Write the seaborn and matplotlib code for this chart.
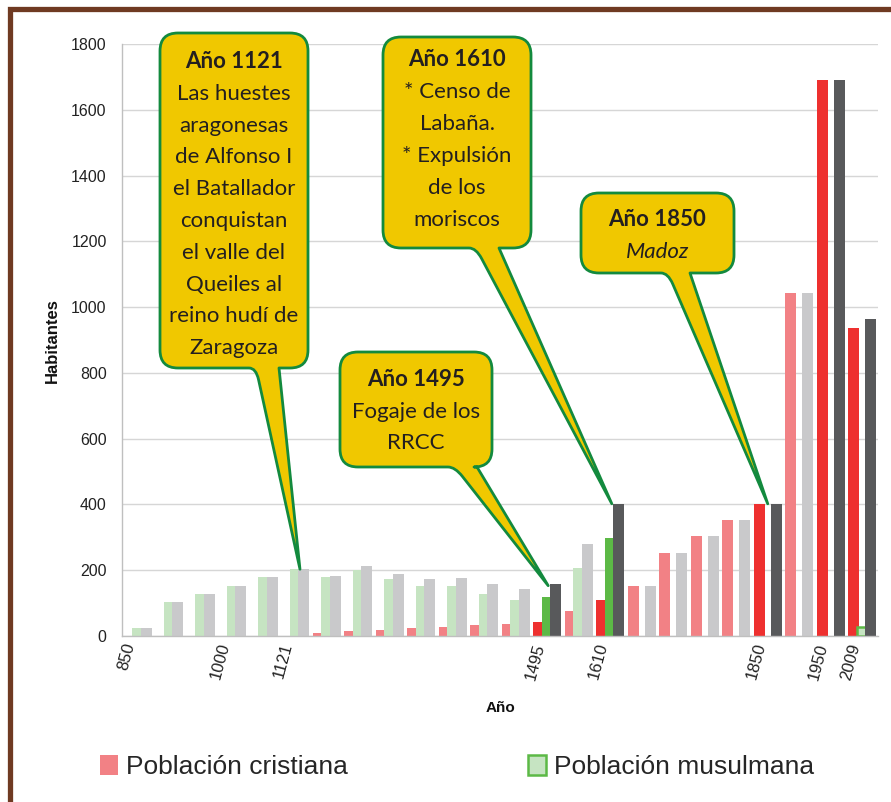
import matplotlib
matplotlib.use('Agg')
import matplotlib.pyplot as plt
import matplotlib.patches as mpatches
import matplotlib.transforms as mtransforms
from matplotlib.path import Path
import pandas as pd
import seaborn as sns

# datos (habitantes por periodo)
etiquetas = ['850', '', '', '1000', '', '1121', '', '', '', '', '', '', '',
             '1495', '', '1610', '', '', '', '', '1850', '', '1950', '2009']
cristiana = [0, 0, 0, 0, 0, 0, 9, 14, 18, 24, 27, 32, 37, 42, 76, 108,
             153, 253, 304, 354, 402, 1044, 1690, 938]
musulmana = [24, 104, 128, 153, 178, 203, 178, 202, 172, 152, 152, 127, 109, 118, 207, 297,
             0, 0, 0, 0, 0, 0, 0, 26]
total = [24, 104, 128, 153, 178, 203, 183, 212, 187, 172, 177, 158, 143, 158, 281, 402,
         153, 253, 304, 354, 402, 1044, 1690, 963]
destacados = ['1495', '1610', '1850', '1950', '2009']
series = ['Población cristiana', 'Población musulmana', 'Total']

colores_claros = ['#F28185', '#C6E4C2', '#C9C9CB']
colores_oscuros = ['#EE302F', '#5CB946', '#58595B']

W, H = 891, 802

sns.set_style('white')
plt.rcParams['font.family'] = ['Liberation Sans', 'DejaVu Sans']

periodo = list(range(len(etiquetas)))
n = len(periodo)
df = pd.DataFrame({
    'periodo': periodo * 3,
    'serie': [series[0]] * n + [series[1]] * n + [series[2]] * n,
    'habitantes': cristiana + musulmana + total,
})

fig = plt.figure(figsize=(W / 100, H / 100), dpi=100)
ax = fig.add_axes([122 / W, 166 / H, 756 / W, 592 / H])

sns.barplot(data=df, x='periodo', y='habitantes', hue='serie', order=periodo,
            hue_order=series, width=0.81, saturation=1, legend=False,
            errorbar=None, ax=ax)

# colores por barra y solape estilo Excel
for s, cont in enumerate(ax.containers):
    for bar in cont:
        c = bar.get_x() + bar.get_width() / 2
        cat = int(round(c))
        oscuro = etiquetas[cat] in destacados
        bar.set_facecolor(colores_oscuros[s] if oscuro else colores_claros[s])
        bar.set_edgecolor('none')
        if s == 1 and etiquetas[cat] == '2009':
            bar.set_facecolor(colores_claros[1])
            bar.set_edgecolor(colores_oscuros[1])
            bar.set_linewidth(1.8)
        bar.set_x(c - 0.175)
        bar.set_width(0.35)

ax.set_xlim(-0.5, n - 0.5)
ax.set_ylim(0, 1800)
ax.set_yticks(range(0, 1801, 200))
ax.set_xticks(periodo)
ax.set_xticklabels(etiquetas, rotation=75, ha='right', fontsize=12, color='#222222')
ax.set_xticks([k - 0.5 for k in range(n + 1)], minor=True)
ax.tick_params(axis='x', which='major', length=0, pad=4)
ax.tick_params(axis='x', which='minor', length=5, color='#BFBFBF', width=1)
ax.tick_params(axis='y', length=5, color='#BFBFBF', width=1, pad=6,
               labelsize=11.5, labelcolor='#222222')
ax.yaxis.grid(True, color='#D6D6D6', lw=1)
ax.set_axisbelow(True)
for side in ['top', 'right']:
    ax.spines[side].set_visible(False)
for side in ['left', 'bottom']:
    ax.spines[side].set_color('#BFBFBF')
    ax.spines[side].set_linewidth(1)

ax.set_xlabel('')
ax.set_ylabel('')
fig.text(52 / W, 1 - 341 / H, 'Habitantes', rotation=90, ha='center', va='center',
         fontsize=12, fontweight='bold', color='#111111')
fig.text(500 / W, 1 - 708 / H, 'Año', ha='center', va='center',
         fontsize=11, fontweight='bold', color='#111111')

# leyenda
handles = [mpatches.Patch(facecolor=colores_claros[0], edgecolor='none'),
           mpatches.Patch(facecolor=colores_claros[1], edgecolor=colores_oscuros[1], linewidth=1.8)]
fig.legend(handles, series[:2], loc='center left', bbox_to_anchor=(100 / W, 1 - 767 / H),
           ncol=2, frameon=False, fontsize=19, handlelength=0.7, handleheight=0.8,
           handletextpad=0.3, columnspacing=6.8, borderpad=0, borderaxespad=0)

# marco marron
fig.add_artist(mpatches.Rectangle((9.5 / W, -0.05), 1.2, 1.05 - 8.5 / H, fill=False,
                                  edgecolor='#6F3A22', linewidth=3.8,
                                  transform=fig.transFigure, clip_on=False))

# bocadillos
px = mtransforms.Affine2D().scale(1 / W, -1 / H).translate(0, 1) + fig.transFigure


def a_pixel(x, y):
    dx, dy = ax.transData.transform((x, y))
    return dx, H - dy


def bocadillo(caja, base, punta, lineas, y_lineas, r=18, s=7):
    x0, y0, x1, y1 = caja
    bx0, bx1 = base
    tx, ty = a_pixel(*punta)

    def hacia(ax_, ay_, d=12):
        lng = ((tx - ax_) ** 2 + (ty - ay_) ** 2) ** 0.5
        t = d / lng
        return (ax_ + t * (tx - ax_), ay_ + t * (ty - ay_))

    verts = [(x0 + r, y0), (x1 - r, y0), (x1, y0), (x1, y0 + r), (x1, y1 - r),
             (x1, y1), (x1 - r, y1)]
    codes = [Path.MOVETO, Path.LINETO, Path.CURVE3, Path.CURVE3, Path.LINETO,
             Path.CURVE3, Path.CURVE3]
    # hombro derecho (solo si la cola no se inclina hacia fuera)
    if hacia(bx1, y1)[0] < bx1:
        verts += [(bx1 + s, y1), (bx1, y1), hacia(bx1, y1)]
        codes += [Path.LINETO, Path.CURVE3, Path.CURVE3]
    else:
        verts += [(bx1, y1)]
        codes += [Path.LINETO]
    verts += [(tx, ty)]
    codes += [Path.LINETO]
    if hacia(bx0, y1)[0] > bx0:
        verts += [hacia(bx0, y1), (bx0, y1), (bx0 - s, y1)]
        codes += [Path.LINETO, Path.CURVE3, Path.CURVE3]
    else:
        verts += [(bx0, y1)]
        codes += [Path.LINETO]
    verts += [(x0 + r, y1), (x0, y1), (x0, y1 - r), (x0, y0 + r), (x0, y0),
              (x0 + r, y0), (x0 + r, y0)]
    codes += [Path.LINETO, Path.CURVE3, Path.CURVE3, Path.LINETO, Path.CURVE3,
              Path.CURVE3, Path.CLOSEPOLY]
    fig.add_artist(mpatches.PathPatch(Path(verts, codes), facecolor='#F0C800',
                                      edgecolor='#138A3E', linewidth=2,
                                      joinstyle='round', transform=px))
    xc = (x0 + x1) / 2
    for i, (txt, yy) in enumerate(zip(lineas, y_lineas)):
        fig.text(xc, yy, txt, transform=px, ha='center', va='center',
                 fontsize=16, family=['Lato', 'DejaVu Sans'], color='#231F20',
                 fontweight='bold' if i == 0 else 'normal',
                 style='italic' if txt == 'Madoz' else 'normal')


bocadillo((160, 33, 308, 368), (256, 279), (5.15, total[5]),
          ['Año 1121', 'Las huestes', 'aragonesas', 'de Alfonso I', 'el Batallador',
           'conquistan', 'el valle del', 'Queiles al', 'reino hudí de', 'Zaragoza'],
          [62 + 31.8 * i for i in range(10)])
bocadillo((383, 37, 531, 248), (476, 499), (15.05, total[15]),
          ['Año 1610', '* Censo de', 'Labaña.', '* Expulsión', 'de los', 'moriscos'],
          [60 + 32 * i for i in range(6)])
bocadillo((581, 193, 734, 273), (668, 690), (20.0, total[20]),
          ['Año 1850', 'Madoz'], [220, 252])
bocadillo((340, 352, 492, 467), (455, 477), (13.03, total[13] - 5),
          ['Año 1495', 'Fogaje de los', 'RRCC'], [380, 412, 443])

fig.savefig('out.png', dpi=100)
